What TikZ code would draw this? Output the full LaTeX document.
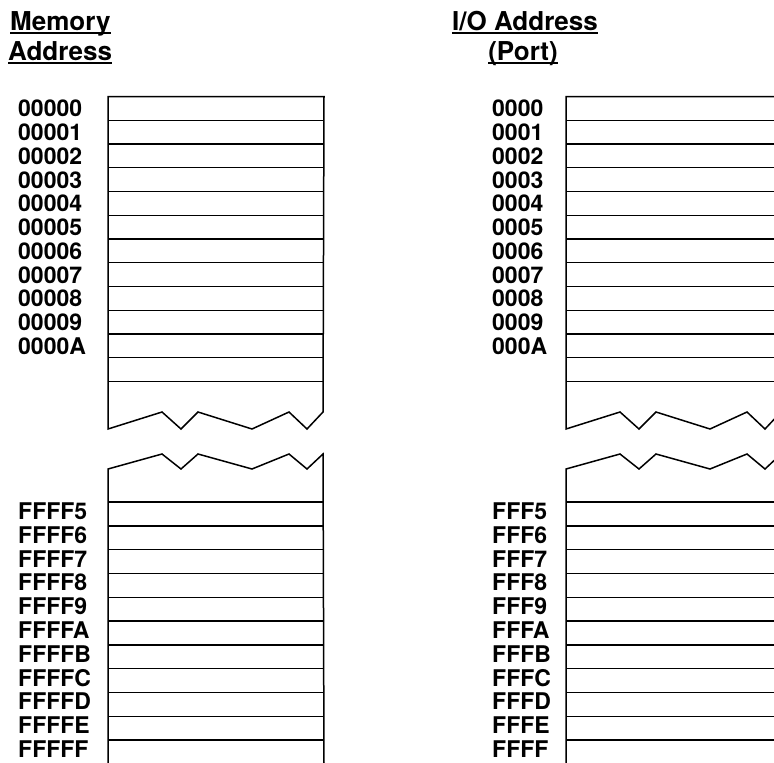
\documentclass[tikz,border=0pt]{standalone}
\usepackage{fontspec}
\setmainfont{TeX Gyre Heros}
\usetikzlibrary{positioning}
\tikzset{
  cim/.style={font=\fontsize{26}{26}\selectfont\bfseries,inner sep=0pt},
  cimke/.style={font=\fontsize{23}{23}\selectfont\bfseries,anchor=base west,inner sep=0pt},
  keret/.style={line width=1.5pt,line join=miter},
  sor/.style={line width=1.4pt},
  alah/.style={line width=2pt},
}

\begin{document}
\begin{tikzpicture}[x=1pt,y=-1pt]
  \useasboundingbox (0,0) rectangle (774,763);
  \clip (0,0) rectangle (774,763);
  % titles
  \node[cim,anchor=base west] (mem) at (10,30) {Memory};
  \node[cim,anchor=base west] (addr) at (8,60) {Address};
  \node[cim,anchor=base] (io) at (525,30) {I/O Address};
  \node[cim,anchor=base] (port) at (523,60) {(Port)};
  \foreach \t in {mem,addr,io,port}
    \draw[alah] ([yshift=-3pt]\t.base west) -- ([yshift=-3pt]\t.base east);
  % the two memory boxes, cut in the middle
  \foreach \x in {108,566} {
    \draw[keret] (\x,96.5) -- (\x,429) -- ++(54,-17) -- ++(19,17) -- ++(17,-17)
      -- ++(54,17) -- ++(37,-17) -- ++(18,17) -- ++(16,-17) -- (\x+216,96.5) -- cycle;
    \foreach \k in {1,...,12}
      \draw[sor] (\x,96.5+\k*23.75) -- (\x+216,96.5+\k*23.75);
    \draw[keret] (\x,764) -- (\x,469) -- ++(54,-15) -- ++(19,15) -- ++(17,-15)
      -- ++(54,15) -- ++(37,-15) -- ++(18,15) -- ++(16,-15) -- (\x+216,764);
    \foreach \k in {0,...,11}
      \draw[sor] (\x,502+\k*23.8) -- (\x+216,502+\k*23.8);
  }
  % addresses
  \foreach \c [count=\i from 0] in {00000,00001,00002,00003,00004,00005,00006,00007,00008,00009,0000A}
    \node[cimke] (m\i) at (18,{96.5+(\i+0.5)*23.75+8.5}) {\c};
  \foreach \c [count=\i from 0] in {FFFF5,FFFF6,FFFF7,FFFF8,FFFF9,FFFFA,FFFFB,FFFFC,FFFFD,FFFFE,FFFFF}
    \node[cimke] (n\i) at (18,{502+(\i+0.5)*23.8+5.5}) {\c};
  \foreach \c [count=\i from 0] in {0000,0001,0002,0003,0004,0005,0006,0007,0008,0009,000A}
    \node[cimke] (p\i) at (492,{96.5+(\i+0.5)*23.75+8.5}) {\c};
  \foreach \c [count=\i from 0] in {FFF5,FFF6,FFF7,FFF8,FFF9,FFFA,FFFB,FFFC,FFFD,FFFE,FFFF}
    \node[cimke] (q\i) at (492,{502+(\i+0.5)*23.8+5.5}) {\c};
\end{tikzpicture}
\end{document}
